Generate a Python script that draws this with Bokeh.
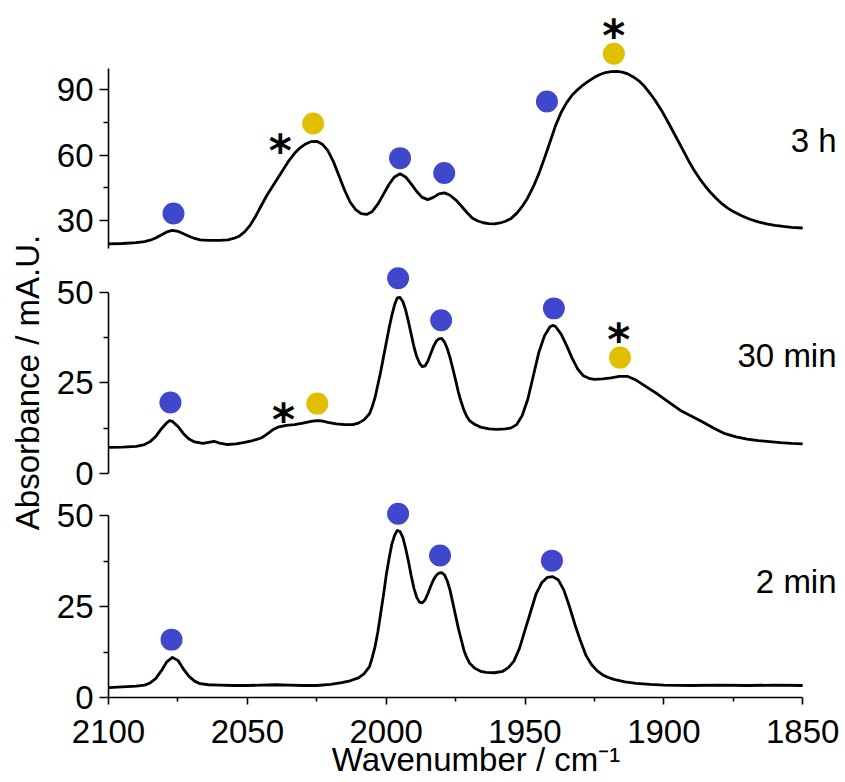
import math
from bokeh.plotting import figure
from bokeh.layouts import column, row
from bokeh.models import Range1d, FixedTicker, ColumnDataSource
from bokeh.embed import file_html
from bokeh.resources import INLINE
from bokeh.core.properties import value

FONT = "Liberation Sans"

# ---------------- data ----------------
x_3h = [2100, 2095, 2090, 2087, 2085, 2083, 2081, 2079, 2077, 2075, 2073, 2071, 2069, 2067, 2064,
        2060, 2057, 2055, 2053, 2051, 2049, 2047, 2045, 2043, 2041, 2039, 2037, 2035, 2033, 2031,
        2029, 2027, 2025, 2023, 2021, 2019, 2017, 2015, 2013, 2011, 2009, 2007, 2005, 2003, 2001,
        1999, 1997, 1995, 1993, 1991, 1989, 1987, 1985, 1983, 1981, 1979, 1977, 1975, 1973, 1971,
        1969, 1967, 1965, 1963, 1961, 1959, 1957, 1955, 1953, 1951, 1949, 1947, 1945, 1943, 1941,
        1939, 1937, 1935, 1933, 1931, 1929, 1927, 1925, 1923, 1921, 1919, 1917, 1915, 1913, 1911,
        1909, 1907, 1905, 1903, 1901, 1899, 1897, 1895, 1893, 1891, 1889, 1887, 1885, 1883, 1881,
        1879, 1877, 1875, 1872, 1869, 1866, 1863, 1860, 1857, 1854, 1850]
y_3h = [19.3, 19.5, 19.9, 20.4, 21.0, 22.0, 23.4, 24.8, 25.5, 25.1, 24.0, 22.8, 21.8, 21.2, 20.9,
        20.9, 21.2, 21.8, 22.8, 24.8, 27.8, 32.0, 36.8, 41.5, 45.5, 49.5, 53.5, 57.5, 60.8, 63.3,
        65.1, 66.2, 66.3, 65.0, 62.0, 57.0, 50.5, 44.0, 38.5, 35.0, 33.2, 32.8, 34.2, 37.5, 42.0,
        46.5, 50.0, 51.4, 50.0, 46.8, 43.3, 40.6, 39.6, 40.6, 42.2, 42.7, 41.6, 39.5, 36.8, 33.8,
        31.2, 29.8, 29.0, 28.6, 28.5, 28.9, 29.7, 31.0, 33.3, 36.5, 40.5, 45.5, 51.5, 58.5, 66.0,
        73.5, 79.5, 84.0, 87.5, 90.0, 92.2, 94.0, 95.6, 96.9, 97.8, 98.2, 98.3, 98.0, 97.2, 95.8,
        94.0, 91.5, 88.3, 84.8, 80.8, 76.3, 71.6, 66.8, 62.0, 57.2, 52.8, 49.0, 45.6, 42.6, 40.0,
        37.6, 35.7, 34.1, 32.2, 30.6, 29.4, 28.5, 27.8, 27.3, 26.9, 26.6]

x_30min = [2100, 2095, 2090, 2087, 2085, 2083, 2081, 2079, 2078, 2077, 2075, 2073, 2071, 2069, 2066,
           2064, 2062, 2060, 2057, 2054, 2051, 2048, 2045, 2043, 2041, 2039, 2036, 2033, 2030, 2027,
           2025, 2023, 2021, 2018, 2015, 2012, 2010, 2008, 2006, 2005, 2004, 2003, 2002, 2001, 2000,
           1999, 1998, 1997, 1996, 1995, 1994, 1993, 1992, 1991, 1990, 1989, 1988, 1987, 1986, 1985,
           1984, 1983, 1982, 1981, 1980, 1979, 1978, 1977, 1976, 1975, 1974, 1973, 1972, 1971, 1970,
           1968, 1966, 1963, 1960, 1957, 1955, 1953, 1951, 1949, 1947, 1945, 1943, 1941, 1940, 1939,
           1937, 1935, 1933, 1931, 1929, 1927, 1925, 1922, 1919, 1916, 1913, 1910, 1906, 1902, 1898,
           1894, 1890, 1886, 1882, 1878, 1874, 1870, 1866, 1862, 1858, 1854, 1850]
y_30min = [7.2, 7.3, 7.5, 8.0, 8.8, 10.2, 12.3, 14.0, 14.6, 14.4, 13.0, 11.0, 9.5, 8.7, 8.3,
           8.6, 8.9, 8.4, 8.0, 8.2, 8.6, 9.1, 9.8, 10.8, 12.0, 12.8, 13.3, 13.5, 13.9, 14.4,
           14.6, 14.5, 14.1, 13.7, 13.5, 13.5, 13.9, 14.8, 16.5, 18.5, 21.0, 24.5, 28.0, 32.0, 36.0,
           40.0, 43.5, 46.5, 48.5, 48.6, 47.5, 45.2, 42.0, 38.5, 35.0, 32.3, 30.5, 29.5, 29.7, 31.0,
           33.0, 35.0, 36.5, 37.2, 37.3, 36.3, 34.5, 32.0, 29.0, 25.8, 22.5, 19.8, 17.5, 15.8, 14.6,
           13.5, 12.8, 12.3, 12.2, 12.3, 12.6, 13.5, 16.0, 20.5, 27.0, 33.5, 38.0, 40.5, 40.9, 40.6,
           38.5, 35.3, 31.8, 28.8, 27.0, 26.3, 26.0, 26.1, 26.4, 26.8, 26.8, 25.8, 23.8, 21.8, 19.6,
           17.4, 15.8, 14.2, 12.5, 11.0, 10.1, 9.5, 9.1, 8.8, 8.5, 8.3, 8.2]

x_2min = [2100, 2095, 2090, 2087, 2085, 2083, 2081, 2079, 2077, 2075, 2073, 2071, 2069, 2067, 2064,
          2060, 2055, 2050, 2045, 2040, 2035, 2030, 2025, 2020, 2016, 2013, 2010, 2008, 2006, 2005,
          2004, 2003, 2002, 2001, 2000, 1999, 1998, 1997, 1996, 1995, 1994, 1993, 1992, 1991, 1990,
          1989, 1988, 1987, 1986, 1985, 1984, 1983, 1982, 1981, 1980, 1979, 1978, 1977, 1976, 1975,
          1974, 1973, 1972, 1971, 1970, 1968, 1966, 1964, 1961, 1958, 1956, 1954, 1952, 1950, 1948,
          1946, 1944, 1942, 1940, 1938, 1936, 1934, 1932, 1930, 1928, 1926, 1924, 1922, 1920, 1918,
          1914, 1910, 1905, 1900, 1890, 1880, 1870, 1860, 1850]
y_2min = [2.7, 2.9, 3.1, 3.4, 4.0, 5.2, 7.3, 9.8, 11.0, 10.2, 7.8, 5.8, 4.5, 3.8, 3.5,
          3.4, 3.3, 3.3, 3.4, 3.5, 3.4, 3.3, 3.3, 3.6, 4.1, 4.6, 5.4, 6.5, 8.5, 11.0,
          14.0, 18.0, 23.0, 28.0, 33.5, 38.0, 42.0, 44.5, 45.9, 45.6, 44.0, 41.0, 37.5, 33.5, 30.0,
          27.5, 26.2, 26.0, 26.8, 28.5, 30.5, 32.3, 33.5, 34.2, 34.3, 33.7, 32.0, 29.5, 26.0, 22.5,
          19.0, 16.0, 13.0, 11.0, 9.5, 8.0, 7.2, 6.9, 6.8, 7.2, 8.2, 10.0, 13.5, 18.5, 23.5,
          28.5, 31.5, 33.0, 33.2, 32.3, 29.5, 25.0, 20.0, 15.5, 11.5, 9.0, 7.3, 6.2, 5.5, 5.0,
          4.3, 3.9, 3.6, 3.4, 3.3, 3.4, 3.3, 3.4, 3.3]

# peak markers (wavenumber, height, kind: "b" blue / "y" yellow)
dots_3h_x = [2076.6, 2026.3, 1995.0, 1979.1, 1942.1, 1918.0]
dots_3h_y = [33.2, 74.5, 58.6, 51.8, 84.5, 106.4]
dots_3h_c = ["b", "y", "b", "b", "b", "y"]
stars_3h_x = [2038.1, 1918.0]
stars_3h_y = [67.3, 120.0]

dots_30_x = [2077.7, 2024.8, 1995.7, 1980.2, 1939.6, 1915.8]
dots_30_y = [19.6, 19.3, 53.9, 42.3, 45.6, 32.0]
dots_30_c = ["b", "y", "b", "b", "b", "y"]
stars_30_x = [2037.0, 1916.2]
stars_30_y = [18.0, 40.0]

dots_2_x = [2077.3, 1995.7, 1980.6, 1940.3]
dots_2_y = [15.9, 50.5, 39.0, 37.6]
dots_2_c = ["b", "b", "b", "b"]

labels = ["3 h", "30 min", "2 min"]
label_y = [66.8, 32.6, 31.9]
label_x = 1837.8

x_ticks = [2100, 2050, 2000, 1950, 1900, 1850]
x_minor = [2075, 2025, 1975, 1925, 1875]
COLORS = {"b": "#3F48CC", "y": "#E0BE00"}

# ---------------- figures ----------------
x_range = Range1d(2100, 1835.3)
LEFT_STRIP = 50


def make_panel(height, yr, bounds, ticks, minor, bottom, show_x, xs, ys, dx, dy, dc, sx, sy, lab, ly):
    p = figure(width=845 - LEFT_STRIP, height=height, x_range=x_range, y_range=Range1d(*yr),
               output_backend="svg", toolbar_location=None, title=None,
               x_axis_location="below" if show_x else None,
               min_border_left=108 - LEFT_STRIP, min_border_right=2, min_border_top=0,
               min_border_bottom=bottom)
    p.outline_line_color = None
    p.xgrid.visible = False
    p.ygrid.visible = False
    p.background_fill_color = "white"
    p.border_fill_color = "white"

    ya = p.yaxis[0]
    ya.ticker = FixedTicker(ticks=ticks, minor_ticks=minor)
    ya.bounds = bounds
    ya.axis_line_width = 1.6
    ya.major_tick_line_width = 1.6
    ya.minor_tick_line_width = 1.6
    ya.major_tick_in = 0
    ya.major_tick_out = 9
    ya.minor_tick_in = 0
    ya.minor_tick_out = 5
    ya.major_label_text_font = FONT
    ya.major_label_text_font_size = "33px"
    ya.major_label_text_color = "black"
    ya.major_label_standoff = 6

    if show_x:
        xa = p.xaxis[0]
        xa.ticker = FixedTicker(ticks=x_ticks, minor_ticks=x_minor)
        xa.bounds = (1850, 2100)
        xa.axis_line_width = 1.6
        xa.major_tick_line_width = 1.6
        xa.minor_tick_line_width = 1.6
        xa.major_tick_in = 0
        xa.major_tick_out = 7
        xa.minor_tick_in = 0
        xa.minor_tick_out = 4
        xa.major_label_text_font = FONT
        xa.major_label_text_font_size = "33px"
        xa.major_label_text_color = "black"
        xa.major_label_standoff = 15
        xa.axis_label = "Wavenumber / cm\u207b\u00b9"
        xa.axis_label_text_font = FONT
        xa.axis_label_text_font_size = "33px"
        xa.axis_label_text_font_style = "normal"
        xa.axis_label_text_color = "black"
        xa.axis_label_standoff = -5

    p.line(xs, ys, line_color="black", line_width=2.8, line_join="round")
    src = ColumnDataSource(dict(x=dx, y=dy, c=[COLORS[k] for k in dc]))
    p.scatter("x", "y", source=src, size=22, fill_color="c", line_color="c", line_width=0)
    if sx:
        p.text(sx, sy, text=["*"] * len(sx), text_font=value("DejaVu Sans"), text_font_style="bold",
               text_font_size="44px", text_align="center", text_baseline="middle",
               text_color="black", y_offset=11)
    p.text([label_x], [ly], text=[lab], text_font=value(FONT), text_font_size="33px",
           text_align="right", text_baseline="middle", text_color="black")
    return p


p1 = make_panel(255, (14.0, 130.8), (17.2, 99.6), [30, 60, 90], [45, 75], 0, False,
                x_3h, y_3h, dots_3h_x, dots_3h_y, dots_3h_c, stars_3h_x, stars_3h_y,
                labels[0], label_y[0])
p2 = make_panel(240, (-6.08, 60.2), (0, 50), [0, 25, 50], [12.5, 37.5], 0, False,
                x_30min, y_30min, dots_30_x, dots_30_y, dots_30_c, stars_30_x, stars_30_y,
                labels[1], label_y[1])
p3 = make_panel(287, (0, 55.5), (0, 50), [0, 25, 50], [12.5, 37.5], 85, True,
                x_2min, y_2min, dots_2_x, dots_2_y, dots_2_c, [], [],
                labels[2], label_y[2])

# strip on the left that carries the shared y-axis title
ylab = figure(width=LEFT_STRIP, height=782, x_range=Range1d(0, LEFT_STRIP), y_range=Range1d(0, 782),
              output_backend="svg", toolbar_location=None, title=None,
              x_axis_location=None, y_axis_location=None,
              min_border_left=0, min_border_right=0, min_border_top=0, min_border_bottom=0)
ylab.outline_line_color = None
ylab.xgrid.visible = False
ylab.ygrid.visible = False
ylab.text([27], [400], text=["Absorbance / mA.U."], angle=math.pi / 2,
          text_font=value(FONT), text_font_size="33px", text_align="center",
          text_baseline="middle", text_color="black")

layout = row(ylab, column(p1, p2, p3, spacing=0), spacing=0)
open("out.html", "w").write(file_html(layout, INLINE))
